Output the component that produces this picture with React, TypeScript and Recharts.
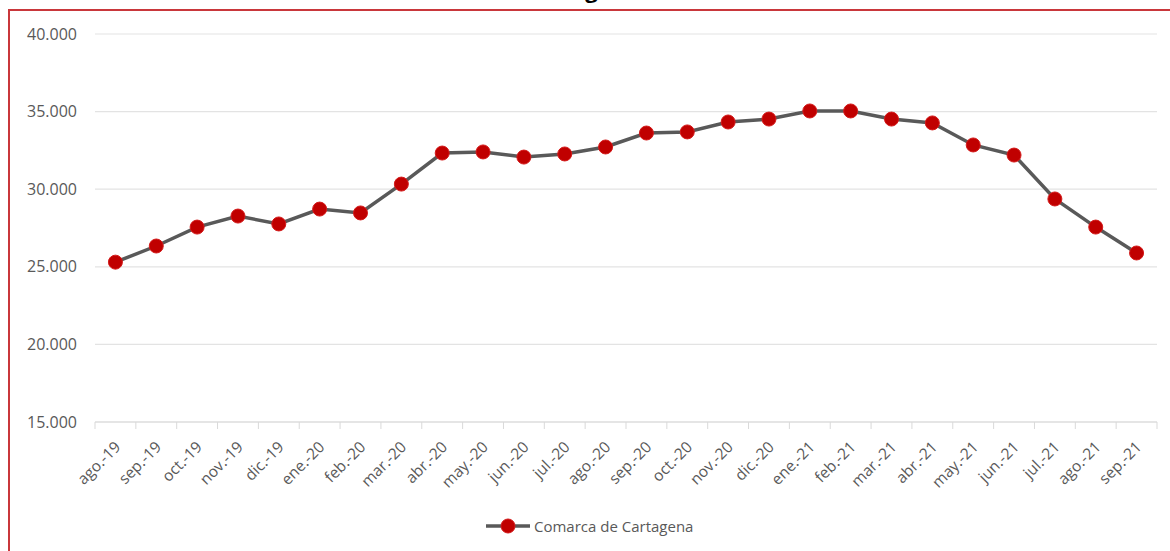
import { LineChart, Line, XAxis, YAxis, CartesianGrid } from 'recharts';

const months = [
  'ago.-19', 'sep.-19', 'oct.-19', 'nov.-19', 'dic.-19', 'ene.-20', 'feb.-20', 'mar.-20',
  'abr.-20', 'may.-20', 'jun.-20', 'jul.-20', 'ago.-20', 'sep.-20', 'oct.-20', 'nov.-20',
  'dic.-20', 'ene.-21', 'feb.-21', 'mar.-21', 'abr.-21', 'may.-21', 'jun.-21', 'jul.-21',
  'ago.-21', 'sep.-21',
];

const comarca = [
  25300, 26340, 27560, 28270, 27760, 28720, 28470, 30330,
  32330, 32400, 32070, 32270, 32720, 33620, 33690, 34330,
  34520, 35040, 35040, 34520, 34270, 32850, 32200, 29370,
  27560, 25890,
];

const yTicks = [15000, 20000, 25000, 30000, 35000, 40000];

const data = months.map((m, i) => ({ month: m, value: comarca[i] }));

const W = 1170;
const H = 551;
const X_HEIGHT = 90;
const MARGIN = { top: 34, right: 13, bottom: 129 - X_HEIGHT, left: 10 };
const Y_WIDTH = 85;
const BAND = (W - MARGIN.left - MARGIN.right - Y_WIDTH) / months.length;

const fmt = (v: number) => v.toString().replace(/\B(?=(\d{3})+(?!\d))/g, '.');

const FONT = '"Open Sans", sans-serif';

function MonthTick(props: any) {
  const { x, y, payload, index } = props;
  const last = index === months.length - 1;
  const tx = x + 6;
  const ty = y + 26;
  return (
    <g>
      <line x1={x - BAND / 2} x2={x - BAND / 2} y1={y} y2={y + 7} stroke="#d9d9d9" strokeWidth={1} />
      {last && (
        <line x1={x + BAND / 2} x2={x + BAND / 2} y1={y} y2={y + 7} stroke="#d9d9d9" strokeWidth={1} />
      )}
      <text
        x={tx}
        y={ty}
        textAnchor="end"
        transform={`rotate(-45, ${tx}, ${ty})`}
        fill="#595959"
        fontSize={15.5}
        fontFamily={FONT}
      >
        {payload.value}
      </text>
    </g>
  );
}

function LegendBox() {
  return (
    <div
      style={{
        position: 'absolute',
        left: 486,
        top: 516,
        display: 'flex',
        alignItems: 'center',
        fontFamily: FONT,
        fontSize: 15,
        color: '#595959',
      }}
    >
      <svg width={46} height={20}>
        <line x1={0} x2={44} y1={10} y2={10} stroke="#595959" strokeWidth={3.5} />
        <circle cx={22} cy={10} r={7} fill="#c00000" stroke="#d41a1a" strokeWidth={1} />
      </svg>
      <span style={{ marginLeft: 2 }}>Comarca de Cartagena</span>
    </div>
  );
}

export default function App() {
  return (
    <div style={{ position: 'fixed', left: 0, top: 0, width: W, height: H, background: '#fff', overflow: 'hidden' }}>
      <svg width={W} height={20} style={{ position: 'absolute', left: 0, top: 0 }}>
        <text x={525} y={-2} fontFamily={FONT} fontWeight={700} fontSize={22} fill="#000">
          Cartagena
        </text>
      </svg>
      <div
        style={{
          position: 'absolute',
          left: 8,
          top: 9,
          width: W + 20,
          height: H + 20,
          border: '2px solid #c9373b',
          boxSizing: 'border-box',
        }}
      />
      <div style={{ position: 'absolute', left: 0, top: 0 }}>
        <LineChart width={W} height={H} data={data} margin={MARGIN}>
          <CartesianGrid vertical={false} stroke="#e3e3e3" strokeWidth={1.2} />
          <XAxis
            dataKey="month"
            interval={0}
            padding={{ left: BAND / 2, right: BAND / 2 }}
            tickLine={false}
            tickSize={0}
            tickMargin={0}
            axisLine={{ stroke: '#d9d9d9', strokeWidth: 1.2 }}
            tick={<MonthTick />}
            height={X_HEIGHT}
          />
          <YAxis
            domain={[15000, 40000]}
            ticks={yTicks}
            tickFormatter={fmt}
            width={Y_WIDTH}
            axisLine={false}
            tickLine={false}
            tickSize={16}
            tickMargin={2}
            tick={{ fill: '#595959', fontSize: 16, fontFamily: FONT }}
          />
          <Line
            type="linear"
            dataKey="value"
            name="Comarca de Cartagena"
            stroke="#595959"
            strokeWidth={3.5}
            dot={{ r: 7, fill: '#c00000', stroke: '#d41a1a', strokeWidth: 1 }}
            activeDot={false}
            isAnimationActive={false}
          />
        </LineChart>
      </div>
      <LegendBox />
    </div>
  );
}
